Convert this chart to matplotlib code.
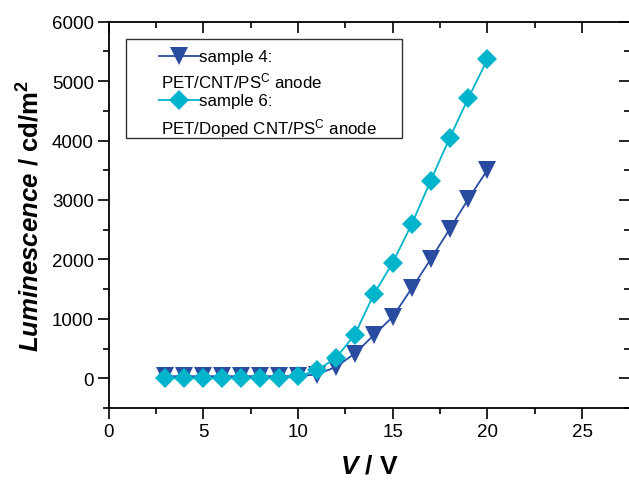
import matplotlib
matplotlib.use("Agg")
import matplotlib.pyplot as plt
from matplotlib.lines import Line2D, TICKDOWN, TICKLEFT
from matplotlib.patches import Rectangle
from matplotlib.ticker import MultipleLocator

plt.rcParams['font.family'] = ['Liberation Sans', 'DejaVu Sans']
plt.rcParams['mathtext.fontset'] = 'custom'
plt.rcParams['mathtext.rm'] = 'Liberation Sans'
plt.rcParams['mathtext.it'] = 'Liberation Sans:italic'
plt.rcParams['mathtext.bf'] = 'Liberation Sans:bold'
plt.rcParams['mathtext.bfit'] = 'Liberation Sans:bold:italic'

# applied voltage (V)
voltage = [3, 4, 5, 6, 7, 8, 9, 10, 11, 12, 13, 14, 15, 16, 17, 18, 19, 20]

# luminescence (cd/m^2)
lum_sample4 = [35, 35, 35, 35, 35, 35, 35, 40, 62, 191, 416, 725, 1034,
               1511, 2000, 2506, 3022, 3506]
lum_sample6 = [0, 0, 0, 0, 0, 0, 0, 30, 135, 340, 735, 1410, 1945,
               2590, 3320, 4040, 4720, 5365]

labels_top = ['sample 4:', 'sample 6:']
labels_bottom = [r'PET/CNT/PS$^\mathrm{C}$ anode',
                 r'PET/Doped CNT/PS$^\mathrm{C}$ anode']

blue = '#2a4ca0'
cyan = '#00b4cb'

fig = plt.figure(figsize=(6.29, 4.81), dpi=100)
ax = fig.add_axes([0.1725, 0.1497, 0.8283, 0.8031])

ax.plot(voltage, lum_sample4, color=blue, lw=1.3, marker='v', ms=13.5,
        markeredgewidth=0, zorder=3)
ax.plot(voltage, lum_sample6, color=cyan, lw=1.3, marker='D', ms=10,
        markeredgewidth=0, zorder=4)

ax.set_xlim(0, 27.5)
ax.set_ylim(-500, 6000)
ax.xaxis.set_major_locator(MultipleLocator(5))
ax.xaxis.set_minor_locator(MultipleLocator(2.5))
ax.yaxis.set_major_locator(MultipleLocator(1000))
ax.yaxis.set_minor_locator(MultipleLocator(500))
ax.tick_params(which='both', direction='out', width=1.2, top=True, right=True,
               labelsize=13.5, pad=2.5)
ax.tick_params(which='major', length=8)
ax.tick_params(which='minor', length=4.5)
for s in ax.spines.values():
    s.set_linewidth(1.3)

ax.set_xlabel(r'$\mathbfit{V}$ $\mathbf{/\ V}$', fontsize=19, labelpad=10)
ax.set_ylabel(r'$\mathbfit{Luminescence}$ $\mathbf{/\ cd/m^2}$',
              fontsize=18.5, labelpad=5.3)

# legend box with two-line entries
ax.add_patch(Rectangle((0.0344, 0.699), 0.5289, 0.2575, transform=ax.transAxes,
                       fill=False, edgecolor='#333333', lw=1.0, zorder=5))
rows = [0.910, 0.797]
bottoms = [0.849, 0.727]
styles = [(blue, 'v', 13.5), (cyan, 'D', 10)]
for y, yb, (c, m, size), t1, t2 in zip(rows, bottoms, styles,
                                        labels_top, labels_bottom):
    ax.add_line(Line2D([0.0969, 0.1749], [y, y], color=c, lw=1.3,
                       transform=ax.transAxes, zorder=6))
    ax.add_line(Line2D([0.1359], [y], color=c, marker=m, ms=size,
                       markeredgewidth=0, transform=ax.transAxes, zorder=6))
    ax.text(0.1737, y, t1, transform=ax.transAxes, fontsize=12.2,
            va='center', ha='left', zorder=6)
    ax.text(0.1017, yb, t2, transform=ax.transAxes, fontsize=12.2,
            va='center', ha='left', zorder=6)

# ticks on the top and right spines point into the plot
fig.canvas.draw()
for t in ax.xaxis.get_major_ticks() + ax.xaxis.get_minor_ticks():
    t.tick2line.set_marker(TICKDOWN)
for t in ax.yaxis.get_major_ticks() + ax.yaxis.get_minor_ticks():
    t.tick2line.set_marker(TICKLEFT)

fig.savefig('out.png', dpi=100)
